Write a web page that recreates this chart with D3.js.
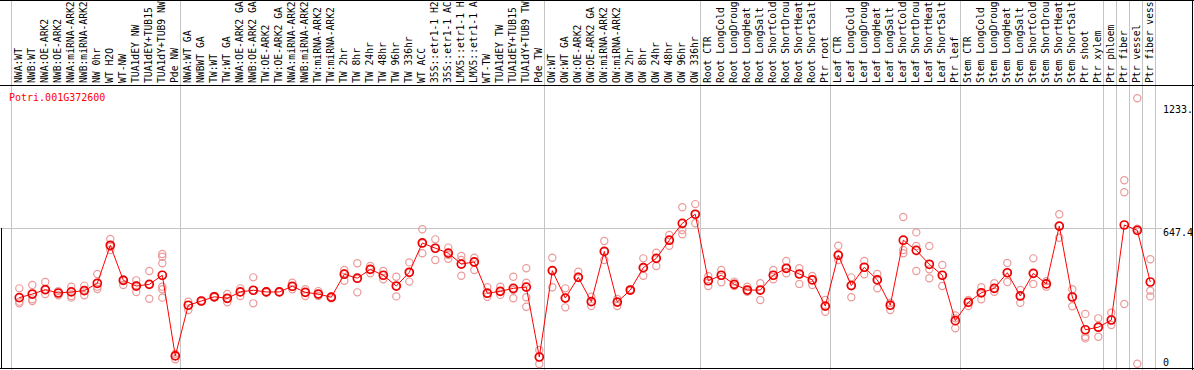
<head>
    <meta charset="utf-8">
    <style> body { margin: 0; background: #ffffff; } </style>
    <script src="https://d3js.org/d3.v7.min.js"></script>
</head>
<body>
    <div id="chart"></div>
    <script>

        var geneId = "Potri.001G372600";

        // sample names as they show in the header strip (cut at 14 characters)
        var samples = [
            "NWA:WT", "NWB:WT", "NWA:OE-ARK2", "NWB:OE-ARK2", "NWA:miRNA-ARK2", "NWB:miRNA-ARK2",
            "NW 0hr", "WT H2O", "WT-NW", "TUA1dEY NW", "TUA1dEY+TUB15", "TUA1dY+TUB9 NW", "Pde NW",
            "NWA:WT GA", "NWBWT GA", "TW:WT", "TW:WT GA", "NWA:OE-ARK2 GA", "NWB:OE-ARK2 GA",
            "TW:OE-ARK2", "TW:OE-ARK2 GA", "NWA:miRNA-ARK2", "NWB:miRNA-ARK2", "TW:miRNA-ARK2",
            "TW:miRNA-ARK2", "TW 2hr", "TW 8hr", "TW 24hr", "TW 48hr", "TW 96hr", "TW 336hr",
            "WT ACC", "35S::etr1-1 H2", "35S::etr1-1 AC", "LMX5::etr1-1 H", "LMX5::etr1-1 A",
            "WT-TW", "TUA1dEY TW", "TUA1dEY+TUB15", "TUA1dY+TUB9 TW", "Pde TW",
            "OW:WT", "OW:WT GA", "OW:OE-ARK2", "OW:OE-ARK2 GA", "OW:miRNA-ARK2", "OW:miRNA-ARK2",
            "OW 2hr", "OW 8hr", "OW 24hr", "OW 48hr", "OW 96hr", "OW 336hr",
            "Root CTR", "Root LongCold", "Root LongDroug", "Root LongHeat", "Root LongSalt",
            "Root ShortCold", "Root ShortDrou", "Root ShortHeat", "Root ShortSalt", "Ptr root",
            "Leaf CTR", "Leaf LongCold", "Leaf LongDroug", "Leaf LongHeat", "Leaf LongSalt",
            "Leaf ShortCold", "Leaf ShortDrou", "Leaf ShortHeat", "Leaf ShortSalt", "Ptr leaf",
            "Stem CTR", "Stem LongCold", "Stem LongDroug", "Stem LongHeat", "Stem LongSalt",
            "Stem ShortCold", "Stem ShortDrou", "Stem ShortHeat", "Stem ShortSalt", "Ptr shoot", "Ptr xylem",
            "Ptr phloem", "Ptr fiber", "Ptr vessel", "Ptr fiber vess"
        ];

        // number of samples in each block between the grey separators
        var groupSizes = [13, 28, 12, 10, 10, 11, 1, 1, 1, 1];

        var means = [
            319, 336, 357, 341, 346, 352, 387, 567, 401, 374, 382, 425, 43,
            283, 303, 323, 316, 346, 354, 346, 346, 373, 344, 336, 321, 430, 411, 453, 425, 374, 439,
            578, 553, 530, 478, 488, 340, 349, 363, 369, 38,
            447, 317, 415, 300, 538, 298, 355, 461, 505, 591, 671, 714,
            399, 425, 382, 355, 355, 425, 458, 431, 403, 279,
            520, 376, 463, 403, 283, 591, 543, 477, 425, 210,
            297, 342, 363, 437, 327, 434, 384, 658, 322, 167, 179,
            213, 663, 638, 393
        ];

        var replicates = [
            [363, 300, 292], [379, 311, 303], [393, 336, 355], [350, 330, 341], [371, 327, 319],
            [376, 330, 354], [431, 360, 371], [597, 545, 560], [379, 401, 406], [401, 346, 377],
            [445, 314, 382], [526, 513, 482, 371, 359, 319], [52, 27, 43],
            [300, 260, 283], [300, 303, 306], [327, 321, 323], [336, 297, 316], [363, 327, 346],
            [415, 292, 354], [343, 346, 349], [344, 346, 348], [390, 359, 371], [359, 327, 344],
            [350, 327, 336], [323, 316, 321], [450, 399, 434], [482, 344, 409], [469, 434, 453],
            [445, 406, 425], [418, 325, 374], [486, 395, 439], [643, 529, 576], [595, 497, 553],
            [556, 503, 521], [516, 423, 497], [508, 450, 488], [368, 323, 340], [371, 332, 349],
            [418, 316, 355], [458, 390, 321, 276], [71, 5, 38],
            [508, 368, 447], [363, 273, 317], [442, 418, 415], [323, 279, 300], [587, 497, 538],
            [313, 279, 298], [352, 358, 355], [505, 423, 461], [532, 469, 505], [616, 565, 591],
            [747, 639, 619], [762, 671, 714],
            [374, 399, 420], [450, 392, 425], [395, 374, 382], [371, 347, 355], [387, 308, 355],
            [450, 406, 425], [493, 434, 458], [458, 384, 431], [422, 379, 403], [308, 252, 279],
            [565, 497, 520], [415, 321, 376], [493, 430, 463], [431, 363, 403], [295, 260, 283],
            [701, 545, 529], [628, 564, 445], [564, 453, 411], [474, 374, 425], [235, 174, 221],
            [308, 279, 297], [368, 311, 342], [387, 347, 363], [483, 393, 437], [355, 295, 327],
            [505, 384, 434], [371, 384, 397], [714, 603, 658], [359, 278, 322], [242, 134, 126],
            [221, 134, 179],
            [248, 189, 213], [875, 818, 289], [1263, 6, 645], [501, 352, 325]
        ];

        var yTicks = [0, 647.4, 1233.4];

        var W = 1194,
            H = 370;

        var margin = { header: 85, left: 10.8, col: 13 };

        var font = "'DejaVu Sans Mono', 'Liberation Mono', monospace";

        var svg = d3.select("#chart").append("svg")
            .attr("width", W)
            .attr("height", H)
            .style("display", "block");

        // band over sample index (some names repeat)
        var x = d3.scaleBand()
            .domain(d3.range(samples.length))
            .range([margin.left, margin.left + samples.length * margin.col]);

        var px = i => x(i) + 8.5;

        var y = d3.scaleLinear()
            .domain([0, 647.4])
            .range([365, 228.3]);

        // grey block separators
        var starts = [0];
        groupSizes.forEach(n => starts.push(starts[starts.length - 1] + n));

        svg.append("g")
            .selectAll("line")
            .data(starts)
            .enter()
            .append("line")
            .attr("x1", d => Math.round(margin.left + d * margin.col) + 0.5)
            .attr("x2", d => Math.round(margin.left + d * margin.col) + 0.5)
            .attr("y1", 0)
            .attr("y2", H)
            .attr("stroke", "#c4c4c4")
            .attr("stroke-width", 1);

        // horizontal grid at the middle tick
        svg.append("line")
            .attr("x1", 0)
            .attr("x2", 1162)
            .attr("y1", Math.round(y(647.4)) + 0.5)
            .attr("y2", Math.round(y(647.4)) + 0.5)
            .attr("stroke", "#c4c4c4");

        // frame
        svg.append("line").attr("x1", 0).attr("x2", W).attr("y1", 0.5).attr("y2", 0.5).attr("stroke", "#000");
        svg.append("line").attr("x1", 0).attr("x2", W).attr("y1", margin.header + 0.5).attr("y2", margin.header + 0.5).attr("stroke", "#000");
        svg.append("line").attr("x1", 0).attr("x2", W).attr("y1", H - 1.5).attr("y2", H - 1.5).attr("stroke", "#000");
        svg.append("line").attr("x1", W - 1.5).attr("x2", W - 1.5).attr("y1", 0).attr("y2", H).attr("stroke", "#000");
        svg.append("line").attr("x1", 1.5).attr("x2", 1.5).attr("y1", Math.round(y(647.4))).attr("y2", H - 1).attr("stroke", "#000");

        // rotated sample names
        svg.append("g")
            .selectAll("text")
            .data(samples)
            .enter()
            .append("text")
            .attr("transform", (d, i) => `translate(${px(i) + 2.5},${margin.header - 2}) rotate(-90)`)
            .attr("font-family", font)
            .attr("font-size", "9.7px")
            .attr("fill", "#000")
            .text(d => d);

        svg.append("text")
            .attr("x", 9)
            .attr("y", 100.5)
            .attr("font-family", font)
            .attr("font-size", "10px")
            .attr("fill", "#ff0000")
            .text(geneId);

        // right hand value labels
        svg.append("g")
            .selectAll("text")
            .data(yTicks)
            .enter()
            .append("text")
            .attr("x", 1163)
            .attr("y", d => Math.min(y(d) + 8, 366))
            .attr("font-family", font)
            .attr("font-size", "10px")
            .attr("fill", "#000")
            .text(d => String(d).slice(0, 5));

        // replicate points
        var reps = [];
        replicates.forEach((r, i) => r.forEach(v => reps.push({ i: i, v: v })));

        svg.append("g")
            .selectAll("circle")
            .data(reps)
            .enter()
            .append("circle")
            .attr("cx", d => px(d.i))
            .attr("cy", d => y(d.v))
            .attr("r", 3.6)
            .attr("fill", "none")
            .attr("stroke", "#eb9a9a")
            .attr("stroke-width", 1.2);

        var meanData = means.map((v, i) => ({ i: i, v: v }));

        svg.append("path")
            .datum(meanData)
            .attr("fill", "none")
            .attr("stroke", "#ff0000")
            .attr("stroke-width", 1)
            .attr("d", d3.line().x(d => px(d.i)).y(d => y(d.v)));

        svg.append("g")
            .selectAll("circle")
            .data(meanData)
            .enter()
            .append("circle")
            .attr("cx", d => px(d.i))
            .attr("cy", d => y(d.v))
            .attr("r", 4)
            .attr("fill", "none")
            .attr("stroke", "#ee0000")
            .attr("stroke-width", 1.7);

    </script>
</body>
